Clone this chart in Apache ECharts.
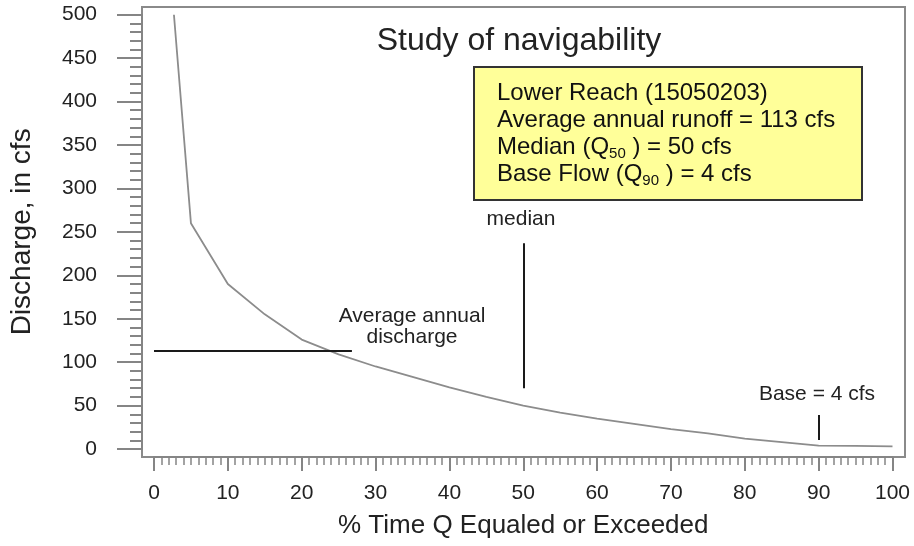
<!DOCTYPE html>
<html>
<head>
<meta charset="utf-8">
<script src="https://cdn.jsdelivr.net/npm/echarts@6/dist/echarts.min.js"></script>
<style>
  html, body { margin: 0; padding: 0; background: #fff; }
  #chart { width: 914px; height: 546px; }
</style>
</head>
<body>
<div id="chart"></div>
<script>
// flow duration curve
const pctTime = [2.7, 5, 10, 15, 20, 25, 30, 35, 40, 45, 50, 55, 60, 65, 70, 75, 80, 85, 90, 95, 100];
const discharge = [500, 260, 190, 155, 126, 109, 95, 83, 71, 60, 50, 42, 35, 29, 23, 18, 12, 8, 4, 3.5, 3];

// axis ranges / ticks
const xMin = 0, xMax = 100, xStep = 10;
const yMin = 0, yMax = 500, yStep = 50;

// annotation lines (x, y in data units)
const avgLine = [[0, 113], [26.8, 113]];
const medianLine = [[50, 70], [50, 237]];
const baseLine = [[90, 10.5], [90, 39]];

const font = "'Liberation Sans', Arial, sans-serif";
const tickColor = "#858585";

const chart = echarts.init(document.getElementById("chart"));

const toMarkLine = function(pair) {
	return [{ coord: pair[0] }, { coord: pair[1] }];
};

const option = {
	animation: false,
	grid: [
		{ left: 154, right: 21.5, top: 14.7, bottom: 97 },
		// frame
		{ left: 142, right: 9, top: 7, bottom: 89, show: true, borderColor: "#8a8a8a", borderWidth: 2 },
	],
	xAxis: [
		{
			type: "value",
			gridIndex: 0,
			min: xMin,
			max: xMax,
			interval: xStep,
			offset: 8,
			name: "% Time Q Equaled or Exceeded",
			nameLocation: "middle",
			nameGap: 56,
			nameTextStyle: { fontFamily: font, fontSize: 26, color: "#222" },
			axisLine: { onZero: false, lineStyle: { color: tickColor, width: 2 } },
			axisTick: { length: 14, lineStyle: { color: tickColor, width: 2 } },
			minorTick: { show: true, splitNumber: 10, length: 8, lineStyle: { color: tickColor, width: 1.5 } },
			axisLabel: { margin: 26, fontFamily: font, fontSize: 21, color: "#222" },
			splitLine: { show: false },
		},
		{ type: "value", gridIndex: 1, show: false },
	],
	yAxis: [
		{
			type: "value",
			gridIndex: 0,
			min: yMin,
			max: yMax,
			interval: yStep,
			offset: 12,
			name: "Discharge, in cfs",
			nameLocation: "middle",
			nameGap: 106,
			nameTextStyle: { fontFamily: font, fontSize: 28, color: "#222" },
			axisLine: { show: true, onZero: false, lineStyle: { color: tickColor, width: 2 } },
			axisTick: { length: 25, lineStyle: { color: tickColor, width: 2 } },
			minorTick: { show: true, splitNumber: 5, length: 12, lineStyle: { color: tickColor, width: 2 } },
			axisLabel: { margin: 45, fontFamily: font, fontSize: 21, color: "#222" },
			splitLine: { show: false },
		},
		{ type: "value", gridIndex: 1, show: false },
	],
	graphic: [
		{
			type: "text",
			x: 519,
			y: 41,
			style: {
				text: "Study of navigability",
				font: "32px " + font,
				fill: "#222",
				align: "center",
				verticalAlign: "middle",
				textAlign: "center",
				textVerticalAlign: "middle",
			},
		},
		{
			type: "group",
			x: 474,
			y: 67,
			children: [
				{
					type: "rect",
					shape: { x: 0, y: 0, width: 388, height: 133 },
					style: { fill: "#ffff99", stroke: "#333", lineWidth: 2 },
				},
				{
					type: "text",
					x: 23,
					y: 13,
					style: {
						text:
							"Lower Reach (15050203)\n" +
							"Average annual runoff = 113 cfs\n" +
							"Median (Q{sub|50} ) = 50 cfs\n" +
							"Base Flow (Q{sub|90} ) = 4 cfs",
						font: "24px " + font,
						fontSize: 24,
						fontFamily: font,
						fill: "#111",
						lineHeight: 27,
						rich: {
							sub: { fontSize: 15, fontFamily: font, lineHeight: 15, verticalAlign: "bottom", fill: "#111" },
						},
					},
				},
			],
		},
		{
			type: "text",
			x: 521,
			y: 219,
			style: {
				text: "median",
				font: "21px " + font,
				fill: "#222",
				align: "center",
				verticalAlign: "middle",
				textAlign: "center",
				textVerticalAlign: "middle",
			},
		},
		{
			type: "text",
			x: 412,
			y: 327,
			style: {
				text: "Average annual\ndischarge",
				font: "21px " + font,
				lineHeight: 21,
				fill: "#222",
				align: "center",
				verticalAlign: "middle",
				textAlign: "center",
				textVerticalAlign: "middle",
			},
		},
		{
			type: "text",
			x: 817,
			y: 394,
			style: {
				text: "Base = 4 cfs",
				font: "21px " + font,
				fill: "#222",
				align: "center",
				verticalAlign: "middle",
				textAlign: "center",
				textVerticalAlign: "middle",
			},
		},
	],
	series: [
		{
			type: "line",
			xAxisIndex: 0,
			yAxisIndex: 0,
			data: pctTime.map(function(x, i) {
				return [x, discharge[i]];
			}),
			showSymbol: false,
			symbol: "none",
			smooth: false,
			lineStyle: { color: "#8c8c8c", width: 1.8 },
			markLine: {
				silent: true,
				symbol: "none",
				label: { show: false },
				lineStyle: { color: "#1a1a1a", width: 2, type: "solid" },
				data: [toMarkLine(avgLine), toMarkLine(medianLine), toMarkLine(baseLine)],
			},
		},
	],
};

chart.setOption(option);
</script>
</body>
</html>
